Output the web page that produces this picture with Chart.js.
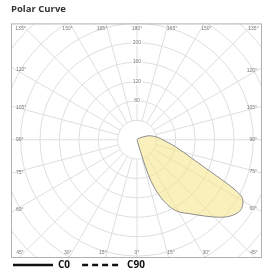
<!DOCTYPE html>
<html>
<head>
<meta charset="utf-8">
<script src="https://cdn.jsdelivr.net/npm/chart.js@4.4.0/dist/chart.umd.min.js"></script>
<style>
  html, body { margin: 0; padding: 0; background: #fff; }
  #wrap { width: 264px; height: 271px; }
</style>
</head>
<body>
<div id="wrap"><canvas id="polarChart"></canvas></div>
<script>
// gamma in degrees (0 = straight down, positive = right half), intensity in cd/klm
const gammaC0 = [0, 10, 15, 17, 18, 20, 23, 27, 31, 35, 39, 44, 49, 53, 56, 59, 61.5, 63, 64.5, 67, 71.5, 80, 90, 96, 107, 115, 125, 140, 180];
const valuesC0 = [0, 0, 5, 40, 75, 105, 132, 158, 174, 185, 199, 220, 242, 254, 258, 255, 246, 227, 201, 160, 119, 80, 53, 44, 28, 14, 5, 1, 0];
// C90 is in the legend but no curve is visible in the picture
const gammaC90 = [];
const valuesC90 = [];

const ringValues = [40, 80, 120, 160, 200, 240, 280, 320, 360];
const ringLabels = [80, 120, 160, 200];
const angleTicks = [0, 15, 30, 45, 60, 75, 90, 105, 120, 135, 150, 165, 180];

function toXY(gammas, values) {
  return gammas.map((g, i) => {
    const a = g * Math.PI / 180;
    return { x: values[i] * Math.sin(a), y: -values[i] * Math.cos(a) };
  });
}

const polarGrid = {
  id: 'polarGrid',
  beforeDatasetsDraw(chart) {
    const { ctx, chartArea: ca, scales: { x, y } } = chart;
    const cx = x.getPixelForValue(0), cy = y.getPixelForValue(0);
    const k = x.getPixelForValue(1) - cx;
    const inner = ringValues[0] * k;
    const far = 2 * (ca.width + ca.height);

    ctx.save();
    ctx.beginPath();
    ctx.rect(ca.left, ca.top, ca.width, ca.height);
    ctx.clip();
    ctx.strokeStyle = '#dedede';
    ctx.lineWidth = 1;
    ringValues.forEach(v => {
      ctx.beginPath();
      ctx.arc(cx, cy, v * k, 0, Math.PI * 2);
      ctx.stroke();
    });
    for (let g = 0; g < 360; g += 15) {
      const a = g * Math.PI / 180;
      const dx = Math.sin(a), dy = Math.cos(a);
      ctx.beginPath();
      ctx.moveTo(cx + dx * inner, cy + dy * inner);
      ctx.lineTo(cx + dx * far, cy + dy * far);
      ctx.stroke();
    }

    // radial tick labels on the 180 line
    ctx.font = '5px "Liberation Sans"';
    ctx.textAlign = 'center';
    ctx.textBaseline = 'middle';
    ringLabels.forEach(v => {
      const py = y.getPixelForValue(v);
      const w = ctx.measureText(String(v)).width;
      ctx.fillStyle = '#fff';
      ctx.fillRect(cx - w / 2 - 1, py - 3, w + 2, 6);
      ctx.fillStyle = '#777';
      ctx.fillText(String(v), cx, py);
    });

    // angle labels along the frame
    const inset = 5;
    const L = ca.left + inset, R = ca.right - inset, T = ca.top + inset, B = ca.bottom - inset;
    angleTicks.forEach(g => {
      const sides = (g === 0 || g === 180) ? [1] : [-1, 1];
      sides.forEach(s => {
        const a = g * Math.PI / 180;
        const dx = s * Math.sin(a), dy = Math.cos(a);
        let t = Infinity, edge = '';
        const tryEdge = (tt, e) => { if (tt > 0 && tt < t) { t = tt; edge = e; } };
        if (dx > 1e-6) tryEdge((R - cx) / dx, 'side');
        if (dx < -1e-6) tryEdge((L - cx) / dx, 'side');
        if (dy > 1e-6) tryEdge((B - cy) / dy, 'tb');
        if (dy < -1e-6) tryEdge((T - cy) / dy, 'tb');
        const px = cx + dx * t, py = cy + dy * t;
        if (edge === 'tb') ctx.textAlign = Math.abs(dx) < 1e-6 ? 'center' : (dx < 0 ? 'right' : 'left');
        else ctx.textAlign = dx < 0 ? 'left' : 'right';
        ctx.fillStyle = '#777';
        ctx.fillText(g + '°', px, py);
      });
    });
    ctx.restore();
  },
  afterDraw(chart) {
    const { ctx, chartArea: ca } = chart;
    ctx.save();
    ctx.strokeStyle = '#b0b0b0';
    ctx.lineWidth = 1;
    ctx.strokeRect(ca.left + 0.5, ca.top + 0.5, ca.width - 1, ca.height - 1);
    ctx.restore();
  }
};

new Chart(document.getElementById('polarChart'), {
  type: 'scatter',
  data: {
    datasets: [{
      label: 'C0',
      data: toXY(gammaC0, valuesC0),
      showLine: true,
      fill: 'shape',
      backgroundColor: 'rgba(244, 230, 137, 0.58)',
      borderColor: '#8c8c8c',
      borderWidth: 1,
      pointRadius: 0,
      tension: 0.35
    }, {
      label: 'C90',
      data: toXY(gammaC90, valuesC90),
      showLine: true,
      fill: false,
      borderColor: '#555',
      borderWidth: 1,
      borderDash: [6, 4],
      pointRadius: 0
    }]
  },
  options: {
    responsive: true,
    maintainAspectRatio: false,
    animation: false,
    events: [],
    layout: { padding: { left: 11, right: 2, top: 0, bottom: 0 } },
    scales: {
      x: { type: 'linear', min: -260, max: 258, display: false },
      y: { type: 'linear', min: -243, max: 239, display: false }
    },
    plugins: {
      tooltip: { enabled: false },
      title: {
        display: true,
        text: 'Polar Curve',
        align: 'start',
        fullSize: false,
        color: '#333',
        font: { family: 'Open Sans', size: 9.5, weight: 'bold' },
        padding: { top: 4, bottom: 8 }
      },
      legend: {
        display: true,
        position: 'bottom',
        align: 'start',
        fullSize: false,
        maxHeight: 13,
        labels: {
          usePointStyle: true,
          pointStyleWidth: 40,
          padding: 2,
          color: '#111',
          font: { family: 'Open Sans', size: 10, weight: 'bold' },
          generateLabels(chart) {
            const sets = chart.data.datasets;
            return sets.map((ds, i) => ({
              // an em space after all but the last entry widens the gap between items
              text: i < sets.length - 1 ? ds.label + '\u2003' : ds.label,
              pointStyle: 'line',
              fillStyle: '#111',
              strokeStyle: '#111',
              lineWidth: 2.5,
              lineDash: ds.borderDash || [],
              hidden: false,
              datasetIndex: i,
              fontColor: '#111'
            }));
          }
        }
      }
    }
  },
  plugins: [polarGrid]
});
</script>
</body>
</html>
